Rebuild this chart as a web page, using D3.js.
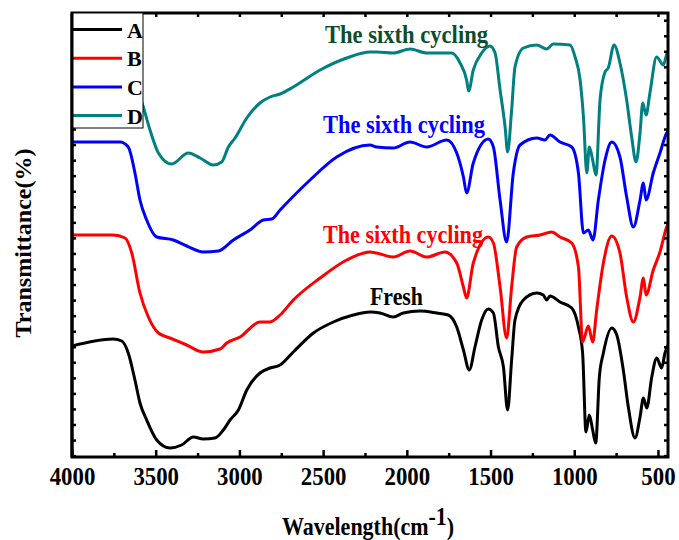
<!DOCTYPE html>
<html>
<head>
<meta charset="utf-8">
<script src="https://cdn.jsdelivr.net/npm/d3@7"></script>
<style>
  body { margin: 0; background: #fff; }
  svg { display: block; font-family: "Liberation Serif", "Times New Roman", serif; font-weight: bold; }
</style>
</head>
<body>
<svg id="chart" width="679" height="540"></svg>
<script>
// FTIR spectra, wavenumber (cm-1) vs transmittance (arbitrary units, offset curves)
var seriesNames = ['A', 'B', 'C', 'D'];
var seriesColors = ['#000000', '#ff0000', '#0000ff', '#008080'];

var majorTicks = [4000, 3500, 3000, 2500, 2000, 1500, 1000, 500];
var minorTicks = [3750, 3250, 2750, 2250, 1750, 1250, 750];

// A - fresh
var specA = [
  [4000, 111], [3755, 118], [3703, 116], [3664, 104], [3624, 77], [3594, 54], [3554, 37],
  [3494, 17], [3415, 9], [3345, 12], [3275, 20], [3216, 18], [3146, 19], [3096, 27],
  [3056, 37], [3006, 47], [2956, 67], [2877, 84], [2817, 89], [2757, 92], [2678, 105],
  [2558, 124], [2439, 135], [2320, 142], [2220, 145], [2160, 144], [2081, 140], [2021, 144],
  [1921, 146], [1821, 144], [1752, 142], [1702, 130], [1662, 107], [1627, 87], [1593, 110],
  [1553, 137], [1513, 148], [1483, 144], [1453, 110], [1423, 90], [1398, 47], [1374, 97],
  [1354, 137], [1304, 157], [1224, 164], [1185, 162], [1165, 157], [1145, 161], [1085, 155],
  [1015, 149], [975, 130], [950, 104], [930, 25], [910, 42], [890, 27], [872, 14],
  [850, 80], [826, 104], [776, 129], [746, 122], [707, 87], [677, 50], [637, 19],
  [607, 40], [587, 59], [567, 49], [537, 80], [507, 99], [478, 89], [458, 104], [440, 112]
];

// B - sixth cycling
var specB = [
  [4000, 222], [3755, 222], [3683, 219], [3643, 204], [3594, 164], [3544, 140], [3484, 124],
  [3415, 119], [3315, 112], [3216, 105], [3116, 108], [3076, 114], [2996, 120], [2877, 135],
  [2817, 135], [2757, 142], [2678, 157], [2518, 179], [2359, 197], [2220, 205], [2180, 204],
  [2081, 200], [1981, 206], [1881, 200], [1772, 205], [1702, 194], [1662, 170], [1643, 159],
  [1603, 194], [1513, 220], [1483, 214], [1443, 170], [1404, 119], [1374, 170], [1344, 210],
  [1284, 220], [1204, 222], [1135, 225], [1085, 220], [1015, 214], [975, 190], [950, 115],
  [916, 131], [890, 115], [866, 147], [826, 194], [776, 221], [727, 204], [687, 160],
  [647, 135], [607, 160], [587, 179], [571, 162], [528, 187], [488, 205], [448, 230], [440, 233]
];

// C - sixth cycling
var specC = [
  [4000, 315], [3713, 315], [3664, 310], [3624, 284], [3594, 257], [3554, 237], [3494, 220],
  [3395, 217], [3315, 211], [3216, 205], [3126, 206], [3036, 217], [2937, 227], [2857, 237],
  [2807, 238], [2757, 247], [2578, 277], [2419, 300], [2220, 312], [2180, 310], [2081, 309],
  [1981, 315], [1881, 310], [1762, 317], [1702, 304], [1662, 280], [1643, 264], [1603, 294],
  [1513, 318], [1483, 310], [1443, 257], [1404, 215], [1364, 284], [1324, 312], [1224, 319],
  [1175, 317], [1145, 322], [1085, 315], [1015, 310], [975, 284], [945, 224], [916, 227],
  [888, 217], [856, 257], [816, 297], [776, 315], [727, 300], [687, 260], [647, 230],
  [607, 257], [587, 274], [571, 257], [528, 284], [488, 304], [448, 324], [440, 326]
];

// D - sixth cycling
var specD = [
  [4000, 414], [3720, 412], [3650, 387], [3574, 350], [3534, 327], [3484, 304], [3405, 293],
  [3305, 304], [3235, 299], [3156, 292], [3106, 295], [3066, 310], [3026, 319], [2956, 339],
  [2877, 354], [2817, 360], [2757, 363], [2678, 370], [2518, 387], [2359, 399], [2220, 405],
  [2180, 405], [2081, 404], [1981, 408], [1881, 404], [1732, 404], [1682, 394], [1643, 377],
  [1631, 366], [1603, 387], [1553, 404], [1503, 411], [1473, 404], [1443, 367], [1413, 330],
  [1398, 305], [1374, 347], [1354, 390], [1304, 409], [1224, 412], [1165, 408], [1125, 413],
  [1025, 412], [995, 400], [965, 377], [945, 340], [925, 284], [910, 310], [890, 297],
  [870, 282], [846, 357], [816, 385], [797, 389], [762, 412], [727, 394], [687, 357],
  [657, 320], [631, 295], [607, 324], [591, 354], [571, 342], [548, 364], [508, 400],
  [468, 392], [445, 404], [440, 405]
];

var spectra = [specA, specB, specC, specD];

var width = 679, height = 540;
var margin = { top: 13, right: 11, bottom: 83, left: 72 };
var iw = width - margin.left - margin.right;
var ih = height - margin.top - margin.bottom;

var svg = d3.select('#chart');

var x = d3.scaleLinear().domain([4000, 440]).range([0, iw]);
var y = d3.scaleLinear().domain([0, 444]).range([ih, 0]);

var g = svg.append('g').attr('transform', 'translate(' + margin.left + ',' + margin.top + ')');

g.append('clipPath').attr('id', 'plotclip')
  .append('rect').attr('width', iw).attr('height', ih);

var line = d3.line()
  .x(function (d) { return x(d[0]); })
  .y(function (d) { return y(d[1]); })
  .curve(d3.curveMonotoneX);

g.append('g').attr('clip-path', 'url(#plotclip)')
  .selectAll('path')
  .data(spectra)
  .join('path')
  .attr('d', line)
  .attr('fill', 'none')
  .attr('stroke', function (d, i) { return seriesColors[i]; })
  .attr('stroke-width', 3)
  .attr('stroke-linejoin', 'round');

// curve annotations
var notes = [
  { text: 'The sixth cycling', x: 253, y: 30, len: 163, color: '#0b4d2d' },
  { text: 'The sixth cycling', x: 251, y: 120, len: 162, color: '#0000ff' },
  { text: 'The sixth cycling', x: 251, y: 230, len: 160, color: '#ff0000' },
  { text: 'Fresh', x: 298, y: 292, len: 53, color: '#000000' }
];
g.selectAll('text.note')
  .data(notes)
  .join('text')
  .attr('class', 'note')
  .attr('x', function (d) { return d.x; })
  .attr('y', function (d) { return d.y; })
  .attr('textLength', function (d) { return d.len; })
  .attr('lengthAdjust', 'spacingAndGlyphs')
  .attr('fill', function (d) { return d.color; })
  .style('font-size', '26px')
  .text(function (d) { return d.text; });

// axes
var bottom = g.append('g').attr('transform', 'translate(0,' + ih + ')')
  .call(d3.axisBottom(x).tickValues(majorTicks).tickFormat(d3.format('d'))
    .tickSizeInner(-7).tickSizeOuter(0).tickPadding(10));
bottom.selectAll('text')
  .attr('textLength', function (d) { return String(d).length * 11.4; })
  .attr('lengthAdjust', 'spacingAndGlyphs')
  .style('font-family', '"Liberation Serif", "Times New Roman", serif')
  .style('font-weight', 'bold')
  .style('font-size', '25px').attr('fill', '#000');

g.append('g').attr('transform', 'translate(0,' + ih + ')')
  .call(d3.axisBottom(x).tickValues(minorTicks).tickSizeInner(-4).tickSizeOuter(0).tickFormat(''));

g.append('g')
  .call(d3.axisTop(x).tickValues(majorTicks.concat(minorTicks)).tickSizeInner(-4).tickSizeOuter(0).tickFormat(''));

var yTicks = d3.range(1.4, 444, 15.55);
g.append('g')
  .call(d3.axisLeft(y).tickValues(yTicks).tickSizeInner(-4).tickSizeOuter(0).tickFormat(''));
g.append('g').attr('transform', 'translate(' + iw + ',0)')
  .call(d3.axisRight(y).tickValues(yTicks).tickSizeInner(-4).tickSizeOuter(0).tickFormat(''));

g.selectAll('.domain').remove();
g.selectAll('.tick line').attr('stroke', '#000').attr('stroke-width', 2.5);

g.append('rect')
  .attr('width', iw).attr('height', ih)
  .attr('fill', 'none').attr('stroke', '#000').attr('stroke-width', 3);

// legend
var legend = g.append('g');
legend.append('rect')
  .attr('x', 0).attr('y', 0).attr('width', 71).attr('height', 115)
  .attr('fill', '#fff').attr('stroke', '#000').attr('stroke-width', 1);
var items = legend.selectAll('g.item')
  .data(seriesNames)
  .join('g')
  .attr('class', 'item')
  .attr('transform', function (d, i) { return 'translate(0,' + (16.5 + i * 28.7) + ')'; });
items.append('line')
  .attr('x1', 1).attr('x2', 50)
  .attr('stroke', function (d, i) { return seriesColors[i]; })
  .attr('stroke-width', 3);
items.append('text')
  .attr('x', 55).attr('y', 8)
  .style('font-size', '22px')
  .text(function (d) { return d; });
g.append('line').attr('x1', 0).attr('x2', 0).attr('y1', 0).attr('y2', ih)
  .attr('stroke', '#000').attr('stroke-width', 3);

// axis titles
svg.append('text')
  .attr('transform', 'translate(282,535) scale(0.88,1)')
  .style('font-size', '25px')
  .call(function (t) {
    t.append('tspan').text('Wavelength(cm');
    t.append('tspan').attr('dy', -10).text('-1');
    t.append('tspan').attr('dy', 10).text(')');
  });

svg.append('text')
  .attr('transform', 'translate(31,243) rotate(-90)')
  .attr('text-anchor', 'middle')
  .style('font-size', '24px')
  .text('Transmittance(%)');
</script>
</body>
</html>
